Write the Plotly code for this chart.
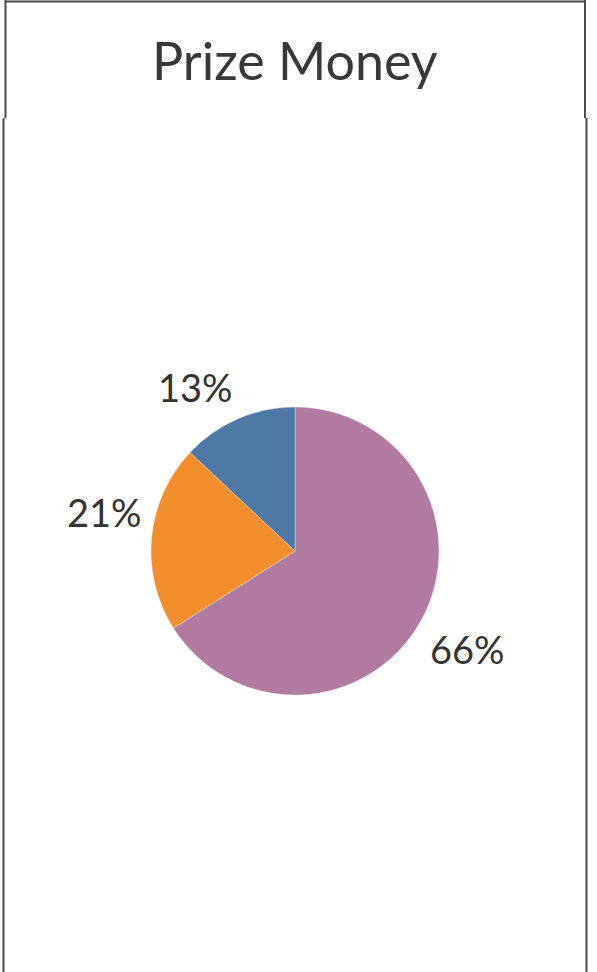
import math
import plotly.graph_objects as go

W, H = 597, 972

# listed in clockwise order starting from 12 o'clock
categories = ["Segment C", "Segment B", "Segment A"]
shares = [66, 21, 13]
colors = ["#b07aa1", "#f28e2b", "#4e79a7"]
title_text = "Prize Money"

def px(x):
    return x / W

def py(y):
    return 1 - y / H

FONT = "Lato, Noto Sans, sans-serif"

# pie placement (pixels)
PIE_L, PIE_R, PIE_T, PIE_B = 151, 439, 407, 695
CX, CY = (PIE_L + PIE_R) / 2, (PIE_T + PIE_B) / 2
RAD = (PIE_R - PIE_L) / 2
GAP = 8

fig = go.Figure(go.Pie(
    labels=categories,
    values=shares,
    sort=False,
    direction="clockwise",
    rotation=0,
    marker=dict(colors=colors, line=dict(color="rgba(255,255,255,0.6)", width=0.6)),
    textinfo="none",
    domain=dict(x=[px(PIE_L), px(PIE_R)], y=[py(PIE_B), py(PIE_T)]),
    showlegend=False,
    hoverinfo="label+percent",
    automargin=False,
))

# percentage labels placed outside each slice at its mid-angle (Tableau-like corner anchoring)
total = sum(shares)
annotations = []
cum = 0.0
for v in shares:
    mid = (cum + v / 2) / total * 2 * math.pi
    cum += v
    dx, dy = math.sin(mid), -math.cos(mid)
    xp = CX + (RAD + GAP) * dx
    yp = CY + (RAD + GAP) * dy
    annotations.append(dict(
        text=f"{round(v / total * 100)}%", xref="paper", yref="paper",
        x=px(xp), y=py(yp),
        xanchor="left" if dx > 0 else "right",
        yanchor="top" if dy > 0 else "bottom",
        showarrow=False,
        font=dict(family=FONT, size=38, color="#333333"),
    ))

annotations.append(dict(text=title_text, xref="paper", yref="paper", x=px(295), y=py(60),
                        xanchor="center", yanchor="middle", showarrow=False,
                        font=dict(family=FONT, size=52, color="#383838")))

line_col = "#4a4a4a"
shapes = [
    dict(type="line", xref="paper", yref="paper", x0=px(5.5), x1=px(5.5), y0=py(0), y1=py(118), line=dict(color=line_col, width=2)),
    dict(type="line", xref="paper", yref="paper", x0=px(585), x1=px(585), y0=py(0), y1=py(118), line=dict(color=line_col, width=2)),
    dict(type="line", xref="paper", yref="paper", x0=px(5), x1=px(586), y0=py(1.5), y1=py(1.5), line=dict(color=line_col, width=2)),
    dict(type="line", xref="paper", yref="paper", x0=px(3.5), x1=px(3.5), y0=py(118), y1=py(972), line=dict(color=line_col, width=2)),
    dict(type="line", xref="paper", yref="paper", x0=px(586.5), x1=px(586.5), y0=py(118), y1=py(972), line=dict(color=line_col, width=2)),
]

fig.update_layout(
    width=W, height=H, autosize=False,
    margin=dict(l=0, r=0, t=0, b=0),
    paper_bgcolor="white", plot_bgcolor="white",
    shapes=shapes,
    annotations=annotations,
)

fig.write_html("out.html", config={"displayModeBar": False},
               post_script="document.body.style.margin='0';document.body.style.overflow='hidden';")
